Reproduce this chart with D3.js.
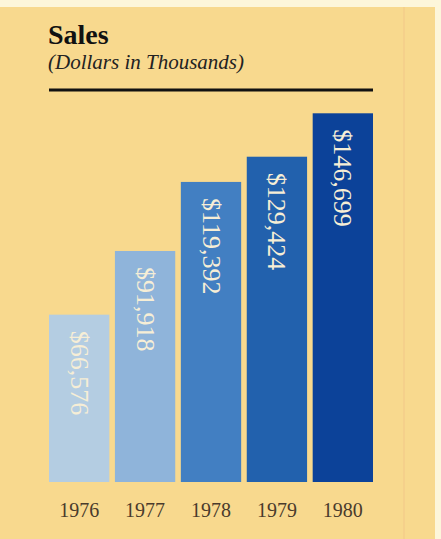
<!DOCTYPE html>
<html>
<head>
<meta charset="utf-8">
<script src="https://cdn.jsdelivr.net/npm/d3@7"></script>
<style>
  body { margin: 0; background: #fdf6da; }
  svg { display: block; }
</style>
</head>
<body>
<div id="chart"></div>
<script>
// chart data
const years = ['1976', '1977', '1978', '1979', '1980'];
const sales = [66576, 91918, 119392, 129424, 146699]; // dollars in thousands
const barColors = ['#b4cde2', '#8fb4da', '#427fc2', '#2261ad', '#0c4299'];

const width = 441;
const height = 539;

const svg = d3.select('#chart')
    .append('svg')
    .attr('width', width)
    .attr('height', height);

// yellow page
svg.append('rect')
    .attr('x', 0).attr('y', 7)
    .attr('width', 435).attr('height', height - 7)
    .attr('fill', '#f8d98e');

// faint fold line on the right
svg.append('line')
    .attr('x1', 404).attr('x2', 404)
    .attr('y1', 7).attr('y2', height)
    .attr('stroke', '#f5d08b')
    .attr('stroke-width', 2);

// title block
svg.append('text')
    .attr('x', 48).attr('y', 44)
    .attr('font-family', 'Liberation Serif, serif')
    .attr('font-weight', 'bold')
    .attr('font-size', 28)
    .attr('fill', '#111')
    .text('Sales');

svg.append('text')
    .attr('x', 48).attr('y', 69)
    .attr('font-family', 'Liberation Serif, serif')
    .attr('font-style', 'italic')
    .attr('font-size', 21)
    .attr('fill', '#222')
    .text('(Dollars in Thousands)');

svg.append('line')
    .attr('x1', 49).attr('x2', 373)
    .attr('y1', 90).attr('y2', 90)
    .attr('stroke', '#111')
    .attr('stroke-width', 3);

// scales
const x = d3.scaleBand()
    .domain(years)
    .range([49, 373])
    .paddingInner(0.085);

const y = d3.scaleLinear()
    .domain([0, 150000])
    .range([482, 105]);

const data = years.map((yr, i) => ({ year: yr, value: sales[i], color: barColors[i] }));

// bars
svg.selectAll('rect.bar')
    .data(data)
    .enter()
    .append('rect')
    .attr('class', 'bar')
    .attr('x', d => x(d.year))
    .attr('y', d => y(d.value))
    .attr('width', x.bandwidth())
    .attr('height', d => y(0) - y(d.value))
    .attr('fill', d => d.color);

// value labels, running down each bar
svg.selectAll('text.value')
    .data(data)
    .enter()
    .append('text')
    .attr('class', 'value')
    .attr('transform', d => `translate(${x(d.year) + x.bandwidth() / 2},${y(d.value) + 16}) rotate(90)`)
    .attr('dominant-baseline', 'central')
    .attr('font-family', 'Liberation Serif, serif')
    .attr('font-size', 26)
    .attr('fill', '#f6eed6')
    .text(d => '$' + d3.format(',')(d.value));

// year axis
const xAxis = svg.append('g')
    .attr('transform', 'translate(0,517)')
    .call(d3.axisBottom(x).tickSize(0).tickPadding(0));
xAxis.select('.domain').remove();
xAxis.selectAll('text')
    .attr('dy', 0)
    .attr('font-family', 'Liberation Serif, serif')
    .attr('font-size', 20)
    .attr('fill', '#4a3b2c');
</script>
</body>
</html>
